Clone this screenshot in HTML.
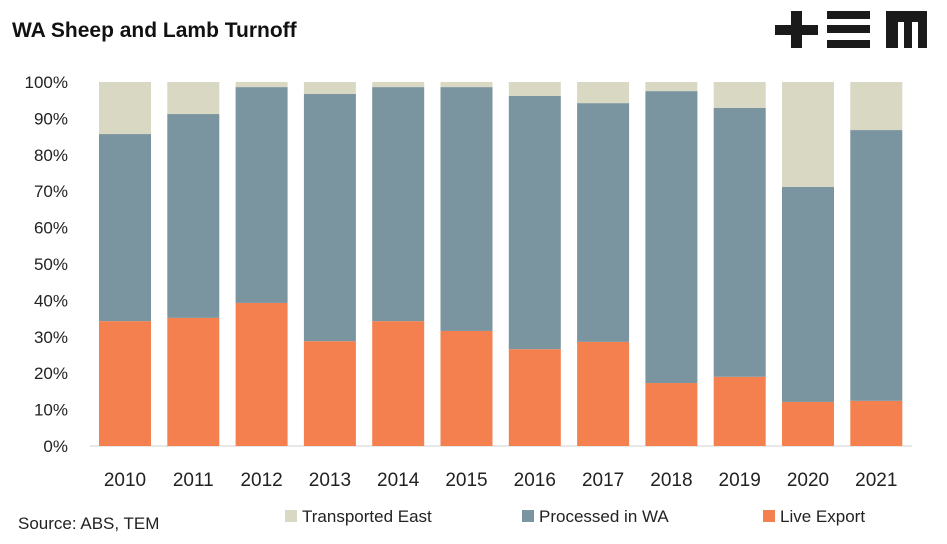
<!DOCTYPE html>
<html><head><meta charset="utf-8"><style>
body{margin:0;background:#fff;width:947px;height:539px;overflow:hidden;font-family:"Liberation Sans",sans-serif}
</style></head><body>
<svg width="947" height="539" xmlns="http://www.w3.org/2000/svg">
<text x="12" y="37" font-size="21" font-weight="bold" fill="#111" font-family="Liberation Sans">WA Sheep and Lamb Turnoff</text>
<g fill="#1a1a1a">
<rect x="775" y="25" width="43" height="10"/><rect x="791" y="11" width="11" height="37"/>
<rect x="827" y="11" width="43" height="8"/><rect x="827" y="25" width="43" height="8"/><rect x="827" y="40" width="43" height="8"/>
<rect x="886" y="11" width="41" height="37"/>
<rect x="898" y="22" width="6" height="26" fill="#fff"/><rect x="912" y="22" width="6" height="26" fill="#fff"/>
</g>
<g id="axis"></g>
<g id="bars"></g>
<text x="18" y="529" font-size="17" fill="#222">Source: ABS, TEM</text>
<g font-size="17" fill="#222">
<rect x="285" y="510" width="12" height="12" fill="#d9d9c3"/>
<text x="302" y="522">Transported East</text>
<rect x="522" y="510" width="12" height="12" fill="#7b95a0"/>
<text x="539" y="522">Processed in WA</text>
<rect x="763" y="510" width="12" height="12" fill="#f5804f"/>
<text x="780" y="522">Live Export</text>
</g>
</svg>
<script>
const years=["2010","2011","2012","2013","2014","2015","2016","2017","2018","2019","2020","2021"];
const liveExport=[34.3,35.2,39.3,28.8,34.3,31.6,26.6,28.6,17.3,19.0,12.1,12.4];
const processedWA=[51.4,56.0,59.3,67.9,64.3,67.0,69.6,65.6,80.2,73.9,59.1,74.4];
const yTicks=[0,10,20,30,40,50,60,70,80,90,100];
const NS="http://www.w3.org/2000/svg";
const y0=446,y1=82;
const yS=v=>y0-(y0-y1)*v/100;
const xC=i=>125+i*68.3;
const bw=52;
const ax=document.getElementById('axis'),bg=document.getElementById('bars');
function mk(t,a,p){const e=document.createElementNS(NS,t);for(const k in a)e.setAttribute(k,a[k]);p.appendChild(e);return e;}
yTicks.forEach(v=>{
 const t=mk('text',{x:68,y:yS(v)+6,'text-anchor':'end','font-size':17,fill:'#222'},ax);
 t.textContent=v+'%';
 
 
});
const base=mk('line',{x1:90,x2:912,y1:y0,y2:y0,stroke:'#d0d0d0','stroke-width':1},ax);


years.forEach((yr,i)=>{
 const x=xC(i)-bw/2;
 const l=liveExport[i],p=processedWA[i],r=100-l-p;
 const a=mk('rect',{x:x,y:yS(l),width:bw,height:yS(0)-yS(l),fill:'#f5804f'},bg);
 
 
 const b=mk('rect',{x:x,y:yS(l+p),width:bw,height:yS(l)-yS(l+p),fill:'#7b95a0'},bg);
 
 
 const c=mk('rect',{x:x,y:yS(100),width:bw,height:yS(l+p)-yS(100),fill:'#d9d9c3'},bg);
 
 
 const t=mk('text',{x:xC(i),y:486,'text-anchor':'middle','font-size':19,fill:'#222'},ax);
 t.textContent=yr;
 
 
});
</script>
</body></html>
